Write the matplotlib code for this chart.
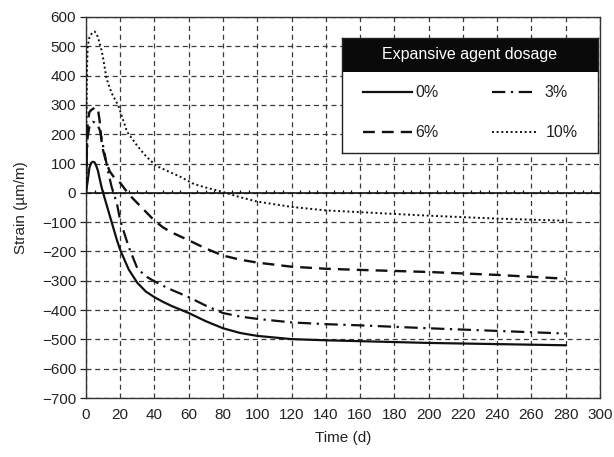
import matplotlib
matplotlib.use("Agg")
import matplotlib.pyplot as plt
from matplotlib.patches import Rectangle

plt.rcParams['font.family'] = ['Liberation Sans', 'DejaVu Sans']

# Strain development (µm/m) versus curing time (d) for each expansive agent dosage
days_0 = [0, 1, 2, 3, 4, 5, 6, 7, 8, 9, 10, 12, 15, 18, 20, 25, 30, 35, 40, 45, 50,
          55, 60, 70, 80, 90, 100, 120, 140, 160, 200, 240, 280]
strain_0 = [0, 40, 85, 102, 106, 104, 92, 75, 48, 22, 0, -40, -100, -160, -195, -262,
            -307, -337, -356, -372, -386, -398, -410, -438, -462, -478, -488, -499,
            -503, -506, -512, -516, -520]

days_3 = [0, 0.5, 1, 2, 3, 4, 5, 6, 7, 8, 9, 10, 11, 12, 13, 15, 18, 20, 25, 30, 35,
          40, 45, 50, 60, 70, 80, 90, 100, 120, 140, 160, 200, 240, 280]
strain_3 = [0, 120, 190, 225, 238, 242, 240, 235, 228, 215, 190, 160, 130, 100, 70,
            20, -35, -95, -185, -258, -285, -302, -317, -331, -356, -385, -410, -422,
            -430, -442, -448, -452, -462, -471, -480]

days_6 = [0, 0.5, 1, 2, 3, 5, 6, 7, 8, 9, 10, 12, 14, 17, 20, 25, 30, 35, 40, 45, 50,
          60, 70, 80, 90, 100, 120, 140, 160, 200, 240, 280]
strain_6 = [0, 150, 240, 275, 282, 290, 292, 285, 245, 180, 145, 100, 72, 48, 34, -5,
            -35, -65, -95, -118, -135, -162, -190, -214, -228, -238, -252, -259, -263,
            -270, -280, -293]

days_10 = [0, 0.3, 0.6, 1, 2, 3, 4, 5, 6, 7, 8, 9, 10, 12, 15, 19, 24, 30, 35, 41, 50,
           55, 63, 70, 80, 90, 100, 120, 140, 160, 200, 240, 280]
strain_10 = [0, 250, 420, 500, 530, 540, 548, 550, 545, 530, 510, 488, 460, 390, 340,
             296, 208, 160, 125, 92, 68, 55, 30, 18, 3, -15, -30, -48, -60, -66, -78,
             -88, -95]

dosage_labels = ["0%", "3%", "6%", "10%"]
legend_title = "Expansive agent dosage"

x_ticks = list(range(0, 301, 20))
y_ticks = list(range(-700, 601, 100))

styles = {
    "0%": dict(ls="-", lw=1.6),
    "3%": dict(ls=(0, (6, 2.5, 1, 2.5)), lw=1.6),
    "6%": dict(ls=(0, (5, 3)), lw=1.7),
    "10%": dict(ls=(0, (1, 1.4)), lw=1.4),
}

fig = plt.figure(figsize=(6.14, 4.57), dpi=100)
ax = fig.add_axes([0.140, 0.129, 0.837, 0.834])

ax.set_xlim(0, 300)
ax.set_ylim(-700, 600)
ax.set_xticks(x_ticks)
ax.set_yticks(y_ticks)
ax.grid(True, linestyle=(0, (4, 3)), color="#3a3a3a", lw=0.9)
ax.set_axisbelow(True)

for sp in ax.spines.values():
    sp.set_color("#333333")
    sp.set_linewidth(1.0)

ax.tick_params(axis="x", length=0, pad=7, labelsize=11, colors="#222222")
ax.tick_params(axis="y", length=4, width=0.9, direction="out", pad=3,
               labelsize=11, colors="#222222")

# solid zero line with small minor ticks every 5 days
ax.axhline(0, color="#111111", lw=1.2, zorder=2)
minor_x = [d for d in range(5, 300, 5) if d % 20 != 0]
ax.vlines(minor_x, 0, 11, color="#111111", lw=0.9, zorder=2)

series = [(days_0, strain_0), (days_3, strain_3), (days_6, strain_6), (days_10, strain_10)]
for (dx, sy), lab in zip(series, dosage_labels):
    ax.plot(dx, sy, color="#111111", label=lab, zorder=3, **styles[lab])

ax.set_xlabel("Time (d)", fontsize=11, color="#222222", labelpad=7)
ax.set_ylabel("Strain (\u00b5m/m)", fontsize=11, color="#222222", labelpad=10)

# legend box with a dark title band
lax = fig.add_axes([0.557, 0.665, 0.417, 0.252])
lax.set_xlim(0, 1)
lax.set_ylim(0, 1)
lax.set_xticks([])
lax.set_yticks([])
for sp in lax.spines.values():
    sp.set_color("#222222")
    sp.set_linewidth(1.0)
lax.add_patch(Rectangle((0, 0.704), 1, 0.296, color="#0a0a0a", lw=0))
lax.text(0.5, 0.852, legend_title, color="white", ha="center", va="center",
         fontsize=11.5)

entries = [
    ("0%", 0.082, 0.273, 0.285, 0.53),
    ("3%", 0.586, 0.754, 0.790, 0.53),
    ("6%", 0.082, 0.273, 0.285, 0.183),
    ("10%", 0.586, 0.760, 0.795, 0.183),
]
for lab, x0, x1, xt, yy in entries:
    lax.plot([x0, x1], [yy, yy], color="#111111", **styles[lab])
    lax.text(xt, yy, lab, ha="left", va="center", fontsize=11.5, color="#222222")

fig.savefig("out.png", dpi=100)
